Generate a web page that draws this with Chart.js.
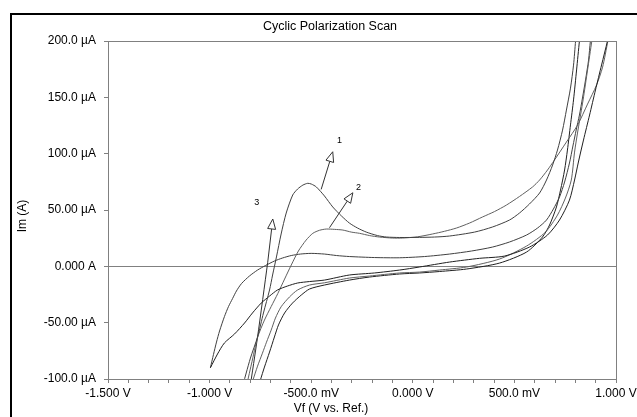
<!DOCTYPE html>
<html>
<head>
<meta charset="utf-8">
<title>Cyclic Polarization Scan</title>
<script src="https://cdn.jsdelivr.net/npm/chart.js@4.4.0/dist/chart.umd.min.js"></script>
<style>
  html, body { margin: 0; padding: 0; background: #fff; }
  #wrap { width: 637px; height: 417px; }
</style>
</head>
<body>
<div id="wrap"><canvas id="cyclic_scan" width="637" height="417"></canvas></div>
<script>
// Axis ticks
var xTickValues = [-1.5, -1.0, -0.5, 0.0, 0.5, 1.0];
var xTickLabels = ['-1.500 V', '-1.000 V', '-500.0 mV', '0.000 V', '500.0 mV', '1.000 V'];
var yTickValues = [-100, -50, 0, 50, 100, 150, 200];
var yTickLabels = ['-100.0 µA', '-50.00 µA', '0.000 A', '50.00 µA', '100.0 µA', '150.0 µA', '200.0 µA'];

// Curves, points are [Vf (V), Im (µA)]
var scan1Forward = [[-0.843,-109.8],[-0.799,-81.4],[-0.764,-62.7],[-0.735,-41.4],[-0.705,-21.0],[-0.690,-7.7],[-0.671,8.3],[-0.648,28.7],[-0.623,47.3],[-0.591,63.3],[-0.567,68.6],[-0.541,72.1],[-0.517,73.7],[-0.499,73.0],[-0.475,70.5],[-0.435,62.5],[-0.394,52.7],[-0.351,44.7],[-0.312,38.4],[-0.272,34.0],[-0.229,30.4],[-0.174,27.3],[-0.129,26.0],[-0.065,25.6],[0.033,25.7],[0.107,26.0],[0.181,26.9],[0.304,30.4],[0.392,34.9],[0.476,41.1],[0.525,47.3],[0.574,55.3],[0.624,65.1],[0.658,76.6],[0.688,89.9],[0.712,103.2],[0.737,120.9],[0.756,138.7],[0.776,158.2],[0.791,178.6],[0.801,199.9],[0.804,206.2]];
var scan1Reverse = [[0.963,204.4],[0.958,200.0],[0.929,178.7],[0.899,156.5],[0.870,134.3],[0.840,112.1],[0.815,92.6],[0.796,76.6],[0.771,58.8],[0.722,41.1],[0.663,27.8],[0.574,17.1],[0.451,9.1],[0.328,7.1],[0.181,3.8],[0.033,-0.6],[-0.065,-3.3],[-0.189,-5.9],[-0.312,-7.7],[-0.435,-12.2],[-0.508,-13.5],[-0.567,-14.8],[-0.617,-17.5],[-0.666,-21.0],[-0.705,-26.4],[-0.746,-32.6],[-0.789,-41.4],[-0.828,-50.3],[-0.877,-60.0],[-0.927,-68.0],[-0.961,-77.8],[-0.996,-90.0]];
var scan2Forward = [[-0.823,-109.8],[-0.794,-86.7],[-0.763,-62.7],[-0.730,-47.7],[-0.697,-35.7],[-0.664,-24.0],[-0.631,-11.3],[-0.598,1.2],[-0.563,13.6],[-0.525,23.3],[-0.492,29.3],[-0.459,32.0],[-0.426,33.1],[-0.385,32.8],[-0.344,32.2],[-0.303,30.4],[-0.262,29.3],[-0.213,27.3],[-0.164,26.0],[-0.100,25.1],[-0.051,25.1],[0.023,26.2],[0.097,28.7],[0.156,31.1],[0.215,34.0],[0.279,38.4],[0.343,43.8],[0.402,48.6],[0.461,54.4],[0.525,62.0],[0.589,70.4],[0.624,76.6],[0.663,85.5],[0.697,94.3],[0.756,110.3],[0.811,125.4],[0.860,144.0],[0.904,160.8],[0.934,176.8],[0.960,200.0],[0.966,206.2]];
var scan2Reverse = [[0.884,204.4],[0.881,200.0],[0.860,174.3],[0.838,147.7],[0.813,121.0],[0.796,101.4],[0.780,76.6],[0.751,60.6],[0.712,45.5],[0.653,30.4],[0.560,18.0],[0.427,6.5],[0.264,-0.6],[0.131,-3.3],[0.033,-5.1],[-0.065,-5.9],[-0.213,-8.6],[-0.312,-10.4],[-0.435,-14.6],[-0.508,-16.6],[-0.567,-21.0],[-0.607,-27.2],[-0.648,-35.9],[-0.676,-45.9],[-0.697,-56.6],[-0.720,-67.3],[-0.740,-77.1],[-0.764,-88.6],[-0.787,-101.0],[-0.804,-109.0]];
var scan3Lead = [[-0.803,-109.8],[-0.764,-62.7],[-0.714,3.6]];
var scan3Forward = [[-0.996,-90.0],[-0.981,-78.3],[-0.966,-67.2],[-0.951,-57.4],[-0.927,-44.6],[-0.907,-35.7],[-0.887,-28.6],[-0.868,-21.9],[-0.843,-15.3],[-0.804,-8.6],[-0.764,-3.3],[-0.725,0.7],[-0.681,4.7],[-0.641,7.4],[-0.598,9.6],[-0.553,10.9],[-0.500,11.5],[-0.435,10.9],[-0.376,9.6],[-0.312,8.7],[-0.189,7.8],[-0.065,7.6],[0.058,8.7],[0.181,10.9],[0.289,13.6],[0.392,17.1],[0.476,21.6],[0.560,27.8],[0.614,34.0],[0.658,41.1],[0.692,50.9],[0.722,61.5],[0.747,74.8],[0.771,91.7],[0.788,106.8],[0.804,121.0],[0.820,134.3],[0.835,149.4],[0.850,165.4],[0.865,183.1],[0.874,200.0],[0.878,204.4]];
var scan3Reverse = [[0.823,204.4],[0.820,200.0],[0.806,174.3],[0.791,147.7],[0.776,125.5],[0.761,103.2],[0.747,85.5],[0.727,67.7],[0.707,52.7],[0.673,36.7],[0.638,26.0],[0.560,12.7],[0.427,2.9],[0.264,-2.4],[0.131,-4.6],[0.033,-5.9],[-0.065,-6.8],[-0.213,-9.5],[-0.312,-12.2],[-0.435,-16.6],[-0.508,-20.1],[-0.549,-25.5],[-0.592,-32.6],[-0.631,-41.4],[-0.661,-52.0],[-0.681,-62.7],[-0.705,-76.1],[-0.730,-89.4],[-0.750,-101.0],[-0.759,-108.1]];

// Scan arrows: tail and tip [V, µA], label anchor
var arrowNames = ['1', '2', '3'];
var arrowTails = [[-0.451, 68.3], [-0.410, 34.3], [-0.714, 3.6]];
var arrowTips = [[-0.394, 101.7], [-0.295, 65.3], [-0.689, 42.0]];
var arrowLabelAt = [[-0.361, 111.3], [-0.267, 70.4], [-0.768, 56.2]];

var FONT = 'Liberation Sans, Arial, sans-serif';

function toXY(points) {
    return points.map(function (p) { return {x: p[0], y: p[1]}; });
}

function curve(points, color) {
    return {
        data: toXY(points),
        showLine: true,
        borderColor: color,
        borderWidth: 1,
        pointRadius: 0,
        tension: 0.25,
        fill: false
    };
}

var framePlugin = {
    id: 'frame',
    beforeDraw: function (chart) {
        var ctx = chart.ctx;
        ctx.save();
        ctx.fillStyle = '#fff';
        ctx.fillRect(0, 0, chart.width, chart.height);
        ctx.fillStyle = '#000';
        ctx.fillRect(10, 13, chart.width - 10, 2);
        ctx.fillRect(10, 13, 2, chart.height - 13);
        ctx.restore();
    },
    afterDatasetsDraw: function (chart) {
        var ctx = chart.ctx;
        var xs = chart.scales.x, ys = chart.scales.y;
        ctx.save();
        ctx.strokeStyle = '#333';
        ctx.lineWidth = 1;
        for (var i = 0; i < arrowNames.length; i++) {
            var x0 = xs.getPixelForValue(arrowTails[i][0]), y0 = ys.getPixelForValue(arrowTails[i][1]);
            var x1 = xs.getPixelForValue(arrowTips[i][0]), y1 = ys.getPixelForValue(arrowTips[i][1]);
            var dx = x1 - x0, dy = y1 - y0, len = Math.sqrt(dx * dx + dy * dy);
            var ux = dx / len, uy = dy / len;
            var bx = x1 - ux * 10, by = y1 - uy * 10;
            ctx.beginPath();
            ctx.moveTo(x0, y0);
            ctx.lineTo(bx, by);
            ctx.stroke();
            ctx.beginPath();
            ctx.moveTo(x1, y1);
            ctx.lineTo(bx - uy * 4, by + ux * 4);
            ctx.lineTo(bx + uy * 4, by - ux * 4);
            ctx.closePath();
            ctx.fillStyle = '#fff';
            ctx.fill();
            ctx.stroke();
            ctx.fillStyle = '#000';
            ctx.font = '9px ' + FONT;
            ctx.textAlign = 'center';
            ctx.textBaseline = 'middle';
            ctx.fillText(arrowNames[i], xs.getPixelForValue(arrowLabelAt[i][0]), ys.getPixelForValue(arrowLabelAt[i][1]));
        }
        ctx.restore();
    },
    afterDraw: function (chart) {
        var ctx = chart.ctx, a = chart.chartArea;
        ctx.save();
        ctx.strokeStyle = '#808080';
        ctx.lineWidth = 1;
        ctx.strokeRect(a.left + 0.5, a.top + 0.5, a.right - a.left, a.bottom - a.top);
        ctx.fillStyle = '#000';
        ctx.textAlign = 'center';
        ctx.textBaseline = 'middle';
        ctx.font = '12.5px ' + FONT;
        ctx.fillText('Cyclic Polarization Scan', 330, 27);
        ctx.font = '12px ' + FONT;
        ctx.fillText('Vf (V vs. Ref.)', 331, 409);
        ctx.translate(23, 216);
        ctx.rotate(-Math.PI / 2);
        ctx.fillText('Im (A)', 0, 0);
        ctx.restore();
    }
};

var myChart = new Chart(
    document.getElementById('cyclic_scan'),
    config = {
        type: 'scatter',
        data: {
            datasets: [
                curve(scan1Forward, '#404040'),
                curve(scan1Reverse, '#202020'),
                curve(scan2Forward, '#606060'),
                curve(scan2Reverse, '#606060'),
                curve(scan3Lead, '#303030'),
                curve(scan3Forward, '#404040'),
                curve(scan3Reverse, '#202020'),
            ]
        },
        options: {
            responsive: false,
            animation: false,
            events: [],
            layout: {
                padding: {top: 41, right: 21, bottom: 0, left: 0}
            },
            plugins: {
                legend: {display: false},
                tooltip: {enabled: false},
            },
            scales: {
                x: {
                    type: 'linear',
                    min: -1.5,
                    max: 1.0,
                    afterFit: function (s) { s.height = 38; s.paddingLeft = 0; s.paddingRight = 0; },
                    ticks: {
                        stepSize: 0.1,
                        autoSkip: false,
                        maxRotation: 0,
                        padding: 3,
                        color: '#000',
                        font: {family: FONT, size: 12},
                        callback: function (value) {
                            for (var i = 0; i < xTickValues.length; i++) {
                                if (Math.abs(value - xTickValues[i]) < 1e-6) return xTickLabels[i];
                            }
                            return '';
                        }
                    },
                    grid: {drawOnChartArea: false, tickLength: 4, color: '#808080'},
                    border: {display: true, color: '#808080'}
                },
                y: {
                    type: 'linear',
                    min: -100,
                    max: 200,
                    afterFit: function (s) { s.width = 108; s.paddingTop = 0; s.paddingBottom = 0; },
                    ticks: {
                        stepSize: 50,
                        autoSkip: false,
                        padding: 8,
                        color: '#000',
                        font: {family: FONT, size: 12},
                        callback: function (value) {
                            var i = yTickValues.indexOf(value);
                            return i < 0 ? '' : yTickLabels[i];
                        }
                    },
                    grid: {
                        drawOnChartArea: true,
                        tickLength: 4,
                        tickColor: '#808080',
                        color: function (ctx) {
                            return ctx.tick && ctx.tick.value === 0 ? '#808080' : 'rgba(0,0,0,0)';
                        }
                    },
                    border: {display: true, color: '#808080'}
                }
            }
        },
        plugins: [framePlugin]
    });
</script>
</body>
</html>
